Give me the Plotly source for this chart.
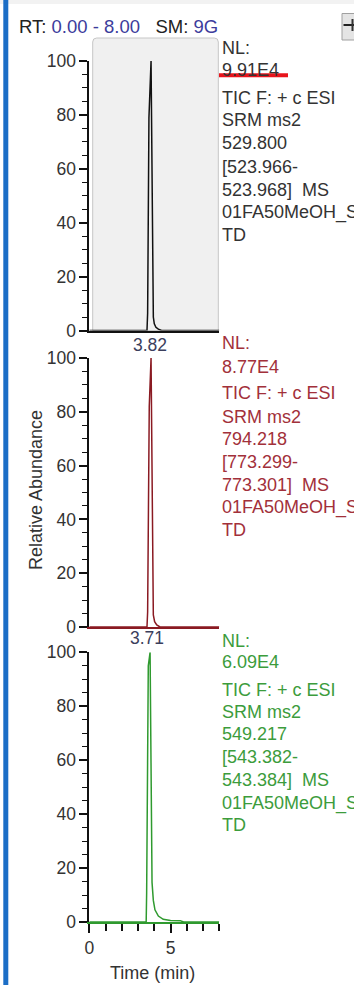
import plotly.graph_objects as go

# ---------------- data ----------------
time_1 = [0.0, 3.55, 3.59, 3.67, 3.80, 3.86, 3.94, 4.00, 4.10, 4.25, 4.45, 8.0]
abund_1 = [0, 0, 6.5, 79, 100, 49.5, 5, 2.5, 1.2, 0.5, 0, 0]

time_2 = [0.0, 3.55, 3.59, 3.69, 3.80, 3.86, 3.94, 4.02, 4.15, 4.35, 8.0]
abund_2 = [0, 0, 5.7, 82, 100, 59, 4.5, 2, 0.8, 0, 0]

time_3 = [0.0, 3.50, 3.53, 3.63, 3.74, 3.80, 3.86, 3.94, 4.04, 4.25, 4.55, 5.0, 5.6, 5.8, 8.0]
abund_3 = [0, 0, 11, 95, 100, 54, 14.7, 8, 4.5, 2.2, 1, 0.6, 0.5, 0, 0]

y_ticks = [0, 20, 40, 60, 80, 100]
x_ticks = [0, 5]
peak_labels = ["3.82", "3.71"]

info_1 = ["NL:", "9.91E4", "TIC F: + c ESI", "SRM ms2", "529.800", "[523.966-",
          "523.968]&nbsp;&nbsp;MS", "01FA50MeOH_S", "TD"]
info_2 = ["NL:", "8.77E4", "TIC F: + c ESI", "SRM ms2", "794.218", "[773.299-",
          "773.301]&nbsp;&nbsp;MS", "01FA50MeOH_S", "TD"]
info_3 = ["NL:", "6.09E4", "TIC F: + c ESI", "SRM ms2", "549.217", "[543.382-",
          "543.384]&nbsp;&nbsp;MS", "01FA50MeOH_S", "TD"]

# ---------------- geometry helpers ----------------
W, H = 354, 985
def X(px):
    return px / W
def Y(py):
    return 1 - py / H

FONT = "Liberation Sans, Arial, sans-serif"
BLACK = "#111111"
RED = "#8a1a22"
GREEN = "#2f9a2f"
TXT_GRAY = "#333333"
TXT_RED = "#a2303a"
TXT_GREEN = "#3c9c3c"
BLUE_TXT = "#3c3c9c"

x_left, x_right = 89.3, 219.3
panels = [  # (pixel of 0, pixel of 100)
    (330.5, 61.0),
    (627.0, 358.0),
    (922.0, 652.3),
]

fig = go.Figure()
series = [(time_1, abund_1, BLACK), (time_2, abund_2, RED), (time_3, abund_3, GREEN)]
for i, (t, a, c) in enumerate(series):
    sfx = "" if i == 0 else str(i + 1)
    fig.add_trace(go.Scatter(x=t, y=a, mode="lines", line=dict(color=c, width=1.5),
                             xaxis="x" + sfx, yaxis="y" + sfx, showlegend=False,
                             hoverinfo="skip"))

layout = dict(
    template="none",
    width=W, height=H, margin=dict(l=0, r=0, t=0, b=0, pad=0, autoexpand=False),
    paper_bgcolor="white", plot_bgcolor="rgba(0,0,0,0)",
    showlegend=False, font=dict(family=FONT, size=17.5, color=TXT_GRAY),
)
axis_line_colors = [BLACK, RED, GREEN]
for i, (p0, p100) in enumerate(panels):
    sfx = "" if i == 0 else str(i + 1)
    last = (i == 2)
    xa = dict(domain=[X(x_left), X(x_right)], range=[0, 8], anchor="y" + sfx,
              automargin=False, showgrid=False, zeroline=False, showline=True,
              linecolor=axis_line_colors[i], linewidth=2, fixedrange=True)
    if last:
        xa.update(tickmode="array", tickvals=x_ticks, ticks="outside", ticklen=9,
                  tickwidth=1.5, tickcolor=BLACK, showticklabels=True,
                  tickfont=dict(family=FONT, size=17.5, color=TXT_GRAY),
                  minor=dict(dtick=1, ticks="outside", ticklen=7, tickwidth=1.5,
                             tickcolor=BLACK, showgrid=False))
    else:
        xa.update(ticks="", showticklabels=False)
    ya = dict(domain=[Y(p0), Y(p100)], range=[0, 100], anchor="x" + sfx,
              automargin=False, showgrid=False, zeroline=False, showline=True,
              linecolor=BLACK, linewidth=1.8, tickmode="array", tickvals=y_ticks,
              ticks="outside", ticklen=8, tickwidth=1.5, tickcolor=BLACK,
              tickfont=dict(family=FONT, size=17.5, color=TXT_GRAY),
              ticklabelstandoff=0,
              minor=dict(dtick=5, ticks="outside", ticklen=5, tickwidth=1.2,
                         tickcolor=BLACK, showgrid=False), fixedrange=True)
    layout["xaxis" + sfx] = xa
    layout["yaxis" + sfx] = ya

fig.update_layout(**layout)

# ---------------- shapes ----------------
shapes = []
# top strip
shapes.append(dict(type="rect", xref="paper", yref="paper", x0=0, x1=1, y0=Y(4), y1=Y(0),
                   fillcolor="#f2f2f2", line=dict(width=0), layer="below"))
# blue bar at left
shapes.append(dict(type="rect", xref="paper", yref="paper", x0=X(3.3), x1=X(8.3),
                   y0=0, y1=1, fillcolor="#1c6ec6", line=dict(width=0), layer="below"))
# highlighted gray box around panel 1 (rounded top corners)
bx0, bx1, by0, by1, r = 92.7, 218.3, 38.0, 330.5, 4.0
path = (f"M {X(bx0)},{Y(by1)} L {X(bx0)},{Y(by0 + r)} "
        f"Q {X(bx0)},{Y(by0)} {X(bx0 + r)},{Y(by0)} "
        f"L {X(bx1 - r)},{Y(by0)} Q {X(bx1)},{Y(by0)} {X(bx1)},{Y(by0 + r)} "
        f"L {X(bx1)},{Y(by1)} Z")
shapes.append(dict(type="path", xref="paper", yref="paper", path=path,
                   fillcolor="#f0f0f0", line=dict(color="#c6c6c6", width=1), layer="below"))
# red underline under NL of panel 1
shapes.append(dict(type="line", xref="paper", yref="paper", x0=X(219), x1=X(288),
                   y0=Y(75.3), y1=Y(75.3), line=dict(color="#e8141c", width=4)))
# top-right button
shapes.append(dict(type="rect", xref="paper", yref="paper", x0=X(342), x1=X(356),
                   y0=Y(40), y1=Y(13.5), fillcolor="#e4e4e4",
                   line=dict(color="#a0a0a0", width=1)))
shapes.append(dict(type="line", xref="paper", yref="paper", x0=X(343.5), x1=X(354),
                   y0=Y(25), y1=Y(25), line=dict(color="#222222", width=2)))
shapes.append(dict(type="line", xref="paper", yref="paper", x0=X(352.5), x1=X(352.5),
                   y0=Y(19), y1=Y(31), line=dict(color="#333333", width=2)))
fig.update_layout(shapes=shapes)

# ---------------- annotations ----------------
ann = []
def text(px, py, s, color, size=18, xanchor="left", angle=0):
    ann.append(dict(xref="paper", yref="paper", x=X(px), y=Y(py), text=s,
                    showarrow=False, xanchor=xanchor, yanchor="middle",
                    textangle=angle, font=dict(family=FONT, size=size, color=color)))

text(17, 26, (f"RT:&nbsp;<span style='color:{BLUE_TXT}'>0.00 - 8.00</span>"
              f"&nbsp;&nbsp;&nbsp;SM:&nbsp;<span style='color:{BLUE_TXT}'>9G</span>"),
     "#222222", size=18.5)

info_rows = [
    [48, 70, 98, 120, 143, 167, 190, 213, 235],
    [343, 367, 393, 417, 439, 462, 485, 508, 530],
    [641, 662, 690, 712, 734, 757, 780, 803, 825],
]
for lines, rows, col in zip([info_1, info_2, info_3], info_rows,
                            [TXT_GRAY, TXT_RED, TXT_GREEN]):
    for s, py in zip(lines, rows):
        text(220, py, s, col, size=18)

text(150, 345, peak_labels[0], "#3b3e5c", size=17.5, xanchor="center")
text(147, 638, peak_labels[1], "#3b3e5c", size=17.5, xanchor="center")

text(36, 490, "Relative Abundance", TXT_GRAY, size=18, xanchor="center", angle=-90)
text(152.5, 973, "Time (min)", TXT_GRAY, size=18, xanchor="center")

fig.update_layout(annotations=ann)

fig.write_html(
    "out.html",
    config={"displayModeBar": False},
    post_script=("document.body.style.margin='0';document.body.style.padding='0';"
                 "document.documentElement.style.overflow='hidden';"),
)
